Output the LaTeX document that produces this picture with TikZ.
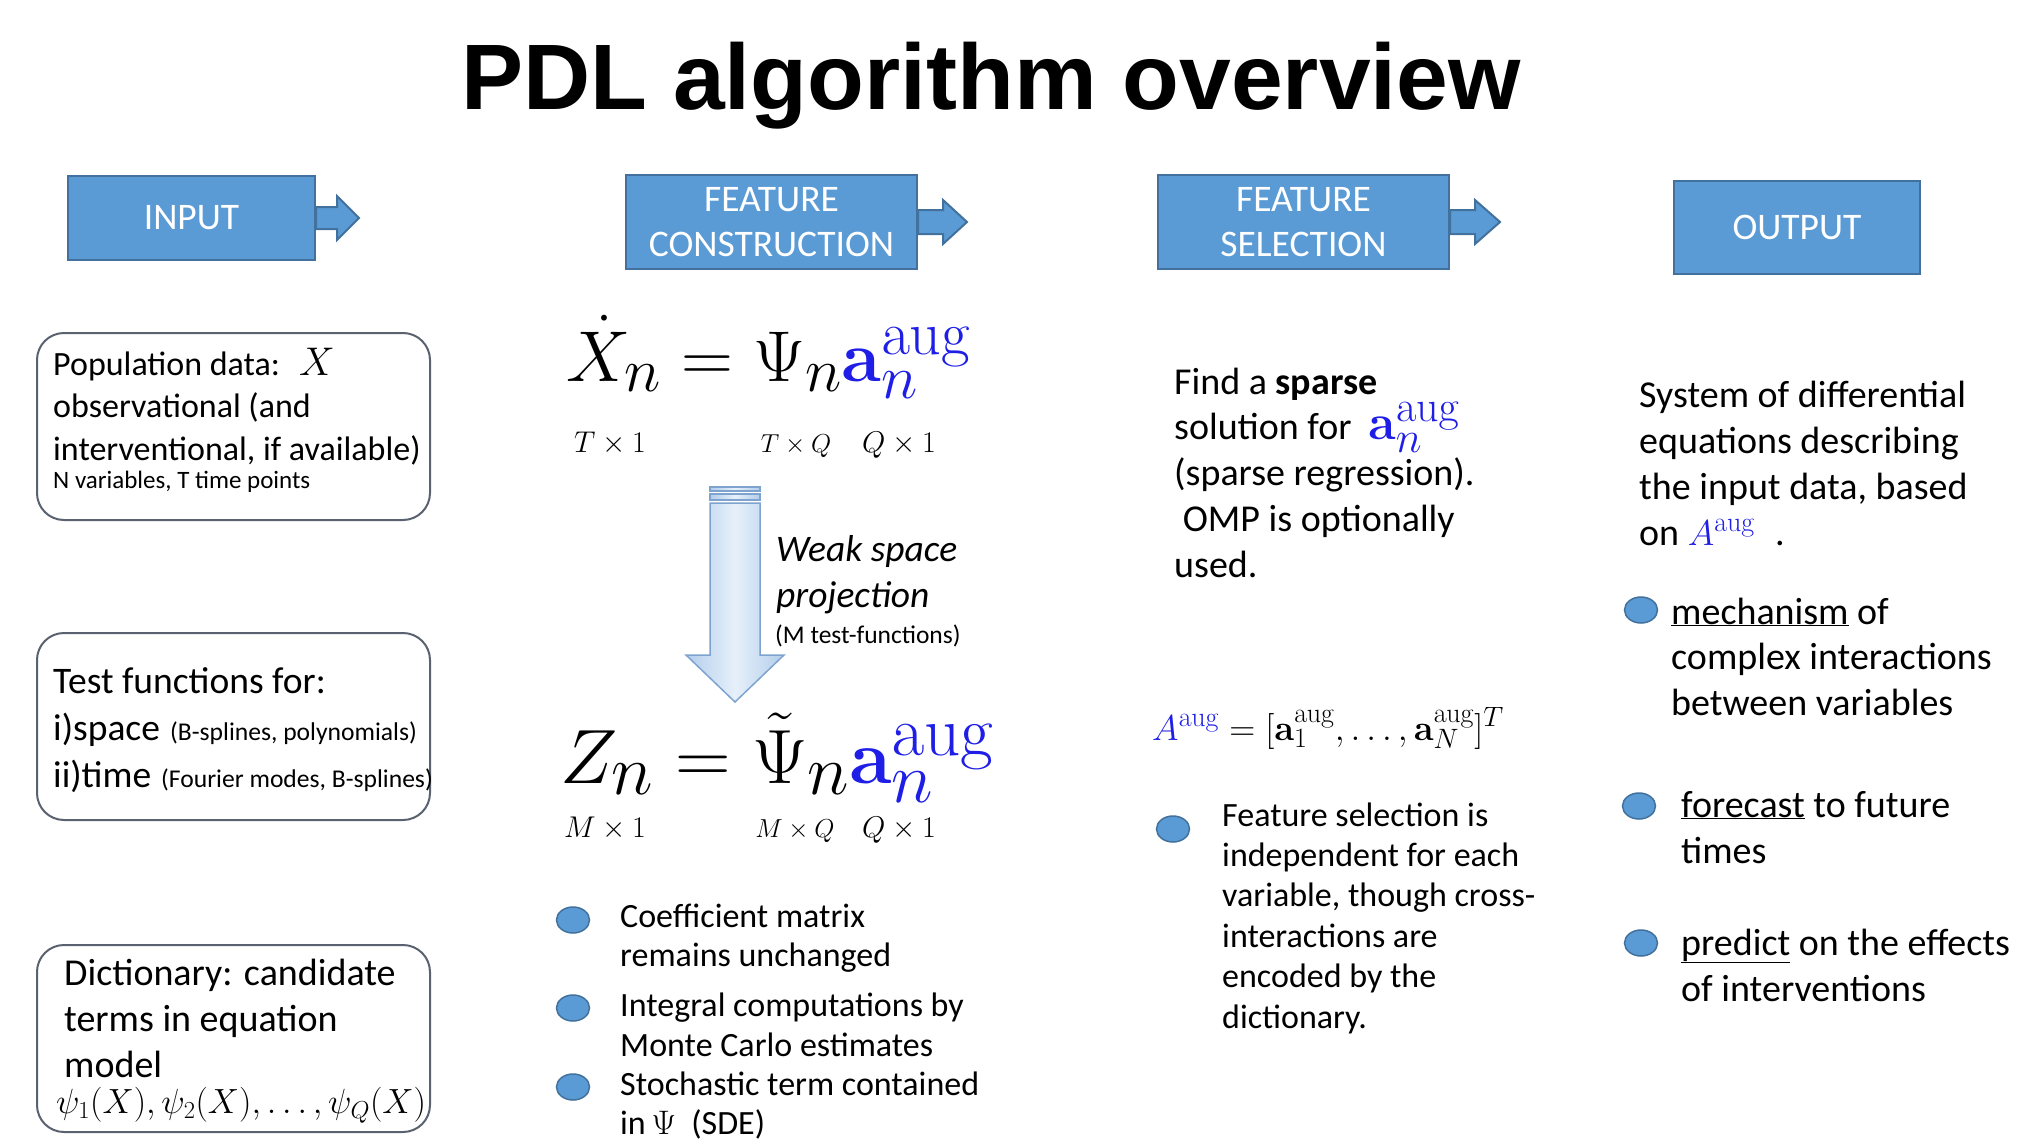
\RequirePackage{fix-cm}
\documentclass[tikz,border=0pt]{standalone}
\usepackage[no-math]{fontspec}
\setmainfont{Carlito}
\newfontfamily\titlefont{Liberation Sans}
\usetikzlibrary{shapes.geometric}
\DeclareMathSizes{72}{72}{62}{46}
\DeclareMathSizes{77}{77}{71}{52}
\DeclareMathSizes{50}{50}{44}{33}
\DeclareMathSizes{36}{36}{28}{20}
\definecolor{hdrblue}{HTML}{5B9BD5}
\definecolor{hdrline}{HTML}{41719C}
\definecolor{boxline}{HTML}{5A6270}
\definecolor{augblue}{RGB}{30,30,230}
\definecolor{arrside}{HTML}{B3CDEB}
\definecolor{arrmid}{HTML}{E6F0FA}
\definecolor{arrline}{HTML}{7FA3CF}
\newcommand\mlines[2]{\vtop{\baselineskip=#1pt\lineskiplimit=-1000pt\lineskip=0pt\halign{##\hfil\cr#2\crcr}}}
\newcommand\fs[2]{\fontsize{#1}{#2}\selectfont}
\tikzset{
 hdr/.style={rectangle, fill=hdrblue, draw=hdrline, line width=2pt, text=white, font=\fs{37.5}{45}, align=center, inner sep=0pt},
 hdrarrow/.style={fill=hdrblue, draw=hdrline, line width=2pt, line join=miter},
 rbox/.style={rectangle, draw=boxline, line width=2pt, rounded corners=27pt, fill=white, inner sep=0pt, minimum width=393pt, minimum height=187pt},
 txt/.style={anchor=base west, inner sep=0pt, text=black},
 bul/.style={ellipse, fill=hdrblue, draw=hdrline, line width=1.5pt, minimum width=33pt, minimum height=26pt, inner sep=0pt},
 dim/.style={anchor=base, inner sep=0pt},
 blockarrow/.style={left color=arrside, right color=arrside, middle color=arrmid, draw=arrline, line width=1.5pt}
}
\begin{document}
\begin{tikzpicture}[x=1pt,y=-1pt]
\fill[white] (0,0) rectangle (2040,1148);
\useasboundingbox (0,0) rectangle (2040,1148);

% title
\node[anchor=base, inner sep=0pt] (title) at (991,110) {\titlefont\bfseries\fs{93}{100}PDL algorithm overview};

% headers
\node[hdr, minimum width=247pt, minimum height=84pt] (inp) at (191.5,218) {INPUT};
\node[hdr, minimum width=291pt, minimum height=94pt] (fc) at (771.5,222) {FEATURE\\CONSTRUCTION};
\node[hdr, minimum width=291pt, minimum height=94pt] (fsel) at (1303.5,222) {FEATURE\\SELECTION};
\node[hdr, minimum width=246pt, minimum height=93pt] (out) at (1797,227.5) {OUTPUT};
\draw[hdrarrow] (inp.east) ++(0,-11) -- ++(21,0) -- ++(0,-11) -- ++(22,22) -- ++(-22,22) -- ++(0,-11) -- ++(-21,0) -- cycle;
\draw[hdrarrow] (fc.east) ++(0,-12) -- ++(25,0) -- ++(0,-10) -- ++(24,22) -- ++(-24,22) -- ++(0,-10) -- ++(-25,0) -- cycle;
\draw[hdrarrow] (fsel.east) ++(0,-12) -- ++(25,0) -- ++(0,-10) -- ++(25,22) -- ++(-25,22) -- ++(0,-10) -- ++(-25,0) -- cycle;

% input boxes
\node[rbox] (b1) at (233.5,426.5) {};
\node[rbox] (b2) at (233.5,726.5) {};
\node[rbox] (b3) at (233.5,1038.5) {};
\node[txt] (b1t) at (53,375) {\fs{34}{42}\mlines{42.5}{Population data:\hspace{19pt}{\fs{40}{42}$X$}\cr observational (and\cr interventional, if available)}};
\node[txt] (b1s) at (53,488) {\fs{25}{30}N variables, T time points};
\node[txt] (b2t) at (53,693) {\fs{37.5}{48}\mlines{47}{Test functions for:\cr
 \makebox[117pt][l]{i)space}{\fs{25.6}{30}(B-splines, polynomials)}\cr
 \makebox[108pt][l]{ii)time}{\fs{25.6}{30}(Fourier modes, B-splines)}}};
\node[txt] (b3t) at (64,985) {\fs{38}{46}\mlines{46}{Dictionary: candidate\cr terms in equation\cr model}};
\node[txt] (b3m) at (56,1113) {\fs{35}{40}$\psi_1(X),\psi_2(X),\ldots,\psi_Q(X)$};

% feature construction
\node[txt] (eq1) at (566,381) {\fs{72}{84}$\dot X_n = \Psi_n {\color{augblue}\mathbf{a}_n^{\mathrm{aug}}}$};
\node[dim] (d1) at (610,452) {\fs{30}{36}$T\times 1$};
\node[dim] (d2) at (796,452) {\fs{26}{30}$T\times Q$};
\node[dim] (d3) at (899,452) {\fs{30}{36}$Q\times 1$};
\shade[blockarrow] (710,503) -- (760,503) -- (760,655) -- (784,655) -- (735,702) -- (686,655) -- (710,655) -- cycle;
\shade[blockarrow] (710,487) rectangle (760,491);
\shade[blockarrow] (710,494) rectangle (760,500);
\node[txt] (wk) at (776,561) {\fs{37.5}{46}\itshape\mlines{46}{Weak space\cr projection}};
\node[txt] (wks) at (775,643) {\fs{25.5}{30}(M test-functions)};
\node[txt] (eq2) at (560,783) {\fs{77}{88}$Z_n = \tilde\Psi_n {\color{augblue}\mathbf{a}_n^{\mathrm{aug}}}$};
\node[dim] (d4) at (605,837) {\fs{30}{36}$M\times 1$};
\node[dim] (d5) at (795,837) {\fs{26}{30}$M\times Q$};
\node[dim] (d6) at (899,837) {\fs{30}{36}$Q\times 1$};
\node[bul] (m1) at (573,920) {};
\node[bul] (m2) at (573,1008) {};
\node[bul] (m3) at (573,1087) {};
\node[txt] (m1t) at (620,927) {\fs{34}{40}\mlines{39}{Coefficient matrix\cr remains unchanged}};
\node[txt] (m2t) at (620,1016) {\fs{34}{40}\mlines{40}{Integral computations by\cr Monte Carlo estimates}};
\node[txt] (m3t) at (620,1095) {\fs{34}{40}\mlines{39}{Stochastic term contained\cr in\,$\Psi$\ \ (SDE)}};

% feature selection
\node[txt] (fst) at (1174,394) {\fs{38}{46}\mlines{45.75}{Find a \textbf{sparse}\cr
 solution for\hspace{17pt}{\fs{50}{60}\color{augblue}$\mathbf{a}_n^{\mathrm{aug}}$}\cr
 (sparse regression).\cr
 \ OMP is optionally\cr
 used.}};
\node[txt] (aeq) at (1152,740) {\fs{36}{42}${\color{augblue}A^{\mathrm{aug}}} = [\mathbf{a}_1^{\mathrm{aug}},\ldots,\mathbf{a}_N^{\mathrm{aug}}]^T$};
\node[bul] (f1) at (1173,829) {};
\node[txt] (f1t) at (1222,826) {\fs{34}{40}\mlines{40.4}{Feature selection is\cr independent for each\cr variable, though cross-\cr interactions are\cr encoded by the\cr dictionary.}};

% output
\node[txt] (ot) at (1639,407) {\fs{38}{46}\mlines{46}{System of differential\cr equations describing\cr the input data, based\cr on {\fs{36}{42}$\color{augblue}A^{\mathrm{aug}}$}\hspace{20pt}.}};
\node[bul] (o1) at (1641,610) {};
\node[bul] (o2) at (1639,806) {};
\node[bul] (o3) at (1641,943) {};
\node[txt] (o1t) at (1671,624) {\fs{38}{46}\mlines{45.5}{\underline{mechanism} of\cr complex interactions\cr between variables}};
\node[txt] (o2t) at (1681,817) {\fs{38}{46}\mlines{46}{\underline{forecast} to future\cr times}};
\node[txt] (o3t) at (1681,955) {\fs{38}{46}\mlines{46}{\underline{predict} on the effects\cr of interventions}};
\end{tikzpicture}
\end{document}
